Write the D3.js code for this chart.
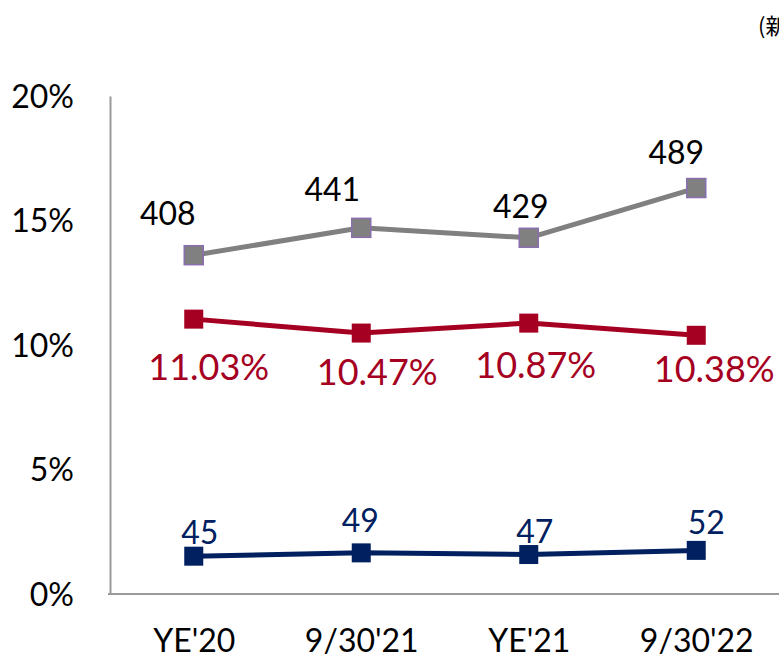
<!DOCTYPE html>
<html>
<head>
<meta charset="utf-8">
<script src="https://cdn.jsdelivr.net/npm/d3@7"></script>
<style>
  html, body { margin: 0; padding: 0; background: #fff; }
  svg { display: block; }
  text { font-family: Lato, "Open Sans", sans-serif; }
</style>
</head>
<body>
<svg id="chart" width="779" height="658"></svg>
<script>
// ---- data ----
const categories = ["YE'20", "9/30'21", "YE'21", "9/30'22"];
const grayCounts = [408, 441, 429, 489];      // plotted on hidden secondary axis 0-600
const redRates = [11.03, 10.47, 10.87, 10.38]; // percent
const blueCounts = [45, 49, 47, 52];           // plotted on hidden secondary axis 0-600
const yTicks = [0, 5, 10, 15, 20];
const secondaryMax = 600;
const noteText = "(新規件数)";

// ---- label offsets (layout) ----
const grayOff = [[-26, -30], [-29, -27], [-8, -20], [-20, -24]];
const redOff = [[15, 61], [16, 52], [7, 55], [18, 47]];
const blueOff = [[6, -12], [-1, -21], [6, -12], [10, -16]];

const svg = d3.select("#chart");
const plotLeft = 110, plotRight = 780, plotTop = 96, plotBottom = 593.5;

const x = d3.scalePoint().domain(categories).range([plotLeft, plotRight]).padding(0.5);
const y = d3.scaleLinear().domain([0, 20]).range([plotBottom, plotTop]);
const y2 = d3.scaleLinear().domain([0, secondaryMax]).range([plotBottom, plotTop]);

const axisColor = "#9a9a9a";

// Y axis
const gy = svg.append("g").attr("transform", `translate(${plotLeft},0)`)
  .call(d3.axisLeft(y).tickValues(yTicks).tickSize(0).tickSizeOuter(0).tickPadding(36).tickFormat(d => d + "%"));
gy.select(".domain").attr("stroke", axisColor).attr("stroke-width", 2);
gy.selectAll("text").attr("font-size", 32).attr("fill", "#000").attr("dy", "0.36em")
  .style("font-family", "Lato, 'Open Sans', sans-serif");

// X axis
const gx = svg.append("g").attr("transform", `translate(0,${plotBottom})`)
  .call(d3.axisBottom(x).tickSize(0).tickSizeOuter(0).tickPadding(0));
gx.select(".domain").attr("stroke", axisColor).attr("stroke-width", 2)
  .attr("d", `M${plotLeft - 2},0.5H${plotRight}`);
gx.selectAll("text").attr("font-size", 32).attr("fill", "#000").attr("y", 58.5).attr("dy", 0)
  .style("font-family", "Lato, 'Open Sans', sans-serif");

// series drawing helper
function drawSeries(values, yScale, lineColor, fill, strokeCol) {
  const pts = values.map((v, i) => [x(categories[i]), yScale(v)]);
  svg.append("path").datum(pts)
    .attr("d", d3.line())
    .attr("fill", "none").attr("stroke", lineColor).attr("stroke-width", 5)
    .attr("stroke-linejoin", "round");
  const s = 19;
  svg.append("g").selectAll("rect").data(pts).join("rect")
    .attr("x", d => d[0] - s / 2).attr("y", d => d[1] - s / 2)
    .attr("width", s).attr("height", s)
    .attr("fill", fill)
    .attr("stroke", strokeCol || "none").attr("stroke-width", strokeCol ? 1.5 : 0);
  return pts;
}

const grayPts = drawSeries(grayCounts, y2, "#808080", "#808080", "#8a6fb0");
const redPts = drawSeries(redRates, y, "#a50021", "#a50021", null);
const bluePts = drawSeries(blueCounts, y2, "#002060", "#002060", null);

function labels(pts, vals, offs, fmt, color, size) {
  svg.append("g").selectAll("text").data(pts).join("text")
    .attr("x", (d, i) => d[0] + offs[i][0])
    .attr("y", (d, i) => d[1] + offs[i][1])
    .attr("text-anchor", "middle")
    .attr("font-size", size)
    .attr("fill", color)
    .text((d, i) => fmt(vals[i]));
}
labels(grayPts, grayCounts, grayOff, d => d, "#000", 32);
labels(redPts, redRates, redOff, d => d.toFixed(2) + "%", "#a50021", 36);
labels(bluePts, blueCounts, blueOff, d => d, "#002060", 32);

// top-right note (clipped by page edge)
svg.append("text").attr("x", 758).attr("y", 34)
  .attr("font-size", 22).attr("fill", "#000")
  .style("font-family", "'Noto Sans CJK JP', sans-serif")
  .text(noteText);
</script>
</body>
</html>
